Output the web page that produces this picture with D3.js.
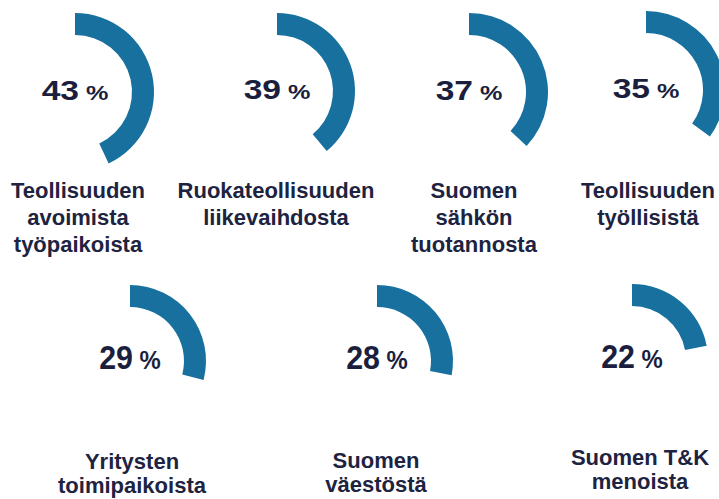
<!DOCTYPE html>
<html>
<head>
<meta charset="utf-8">
<script src="https://cdn.jsdelivr.net/npm/d3@7"></script>
<style>
  html, body { margin: 0; padding: 0; background: #ffffff; }
  svg { display: block; }
  text { font-family: "Liberation Sans", Arial, sans-serif; font-weight: bold; }
</style>
</head>
<body>
<div id="chart"></div>
<script>
// ---- data ----
const values = [43, 39, 37, 35, 29, 28, 22];
const labels = [
  ["Teollisuuden", "avoimista", "työpaikoista"],
  ["Ruokateollisuuden", "liikevaihdosta"],
  ["Suomen", "sähkön", "tuotannosta"],
  ["Teollisuuden", "työllisistä"],
  ["Yritysten", "toimipaikoista"],
  ["Suomen", "väestöstä"],
  ["Suomen T&K", "menoista"]
];
const unit = "%";

// ---- layout (positions / sizes, not data) ----
const W = 719, H = 499;
const layout = [
  { cx: 75,  cy: 92,  ro: 79, ri: 57, lx: 78,  ly: 198, lh: 27, row: 0 },
  { cx: 277, cy: 91,  ro: 78, ri: 56, lx: 276, ly: 198, lh: 27, row: 0 },
  { cx: 469, cy: 92,  ro: 79, ri: 57, lx: 474, ly: 198, lh: 27, row: 0 },
  { cx: 646, cy: 90,  ro: 79, ri: 57, lx: 648, ly: 198, lh: 27, row: 0 },
  { cx: 130, cy: 361, ro: 76, ri: 54, lx: 132, ly: 469, lh: 24, row: 1 },
  { cx: 377, cy: 361, ro: 76, ri: 54, lx: 376, ly: 468, lh: 24, row: 1 },
  { cx: 632, cy: 360, ro: 76, ri: 54, lx: 640, ly: 465, lh: 24, row: 1 }
];
const rowStyle = [
  { numSize: 28, pctSize: 21, sx: 1.2, dy: 8 },
  { numSize: 33, pctSize: 26, sx: 0.92, dy: 8 }
];
const arcColor = "#17709d";
const numColor = "#1b1f3d";
const labelColor = "#1d2340";

const angle = d3.scaleLinear().domain([0, 100]).range([0, 2 * Math.PI]);

const svg = d3.select("#chart").append("svg")
  .attr("width", W).attr("height", H)
  .attr("viewBox", `0 0 ${W} ${H}`);

svg.append("rect").attr("width", W).attr("height", H).attr("fill", "#fff");

const items = values.map((v, i) => ({ v, lines: labels[i], L: layout[i] }));

const g = svg.selectAll("g.gauge").data(items).join("g")
  .attr("class", "gauge");

g.append("path")
  .attr("transform", d => `translate(${d.L.cx},${d.L.cy})`)
  .attr("fill", arcColor)
  .attr("d", d => d3.arc()
    .innerRadius(d.L.ri)
    .outerRadius(d.L.ro)
    .startAngle(0)
    .endAngle(angle(d.v))());

// value text
g.each(function(d) {
  const st = rowStyle[d.L.row];
  const t = d3.select(this).append("text")
    .attr("transform", `translate(${d.L.cx},${d.L.cy + st.dy}) scale(${st.sx},1)`)
    .attr("text-anchor", "middle")
    .attr("fill", numColor);
  t.append("tspan").attr("font-size", st.numSize).text(d.v);
  t.append("tspan").attr("font-size", st.pctSize).text("\u00a0" + unit);
});

// labels
g.each(function(d) {
  const t = d3.select(this).append("text")
    .attr("text-anchor", "middle")
    .attr("fill", labelColor)
    .attr("font-size", 22);
  d.lines.forEach((line, k) => {
    t.append("tspan")
      .attr("x", d.L.lx)
      .attr("y", d.L.ly + k * d.L.lh)
      .text(line);
  });
});
</script>
</body>
</html>
